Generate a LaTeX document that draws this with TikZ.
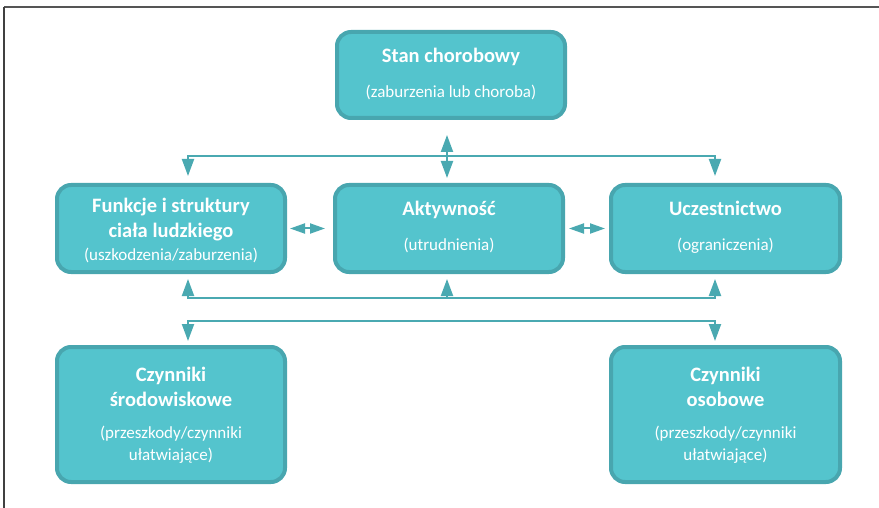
\documentclass[tikz,border=0pt]{standalone}
\usepackage{fontspec}
\setmainfont{Carlito}
\usetikzlibrary{arrows.meta}
\definecolor{boxfill}{HTML}{54C4CD}
\definecolor{boxline}{HTML}{48A6AF}
\definecolor{wirecol}{HTML}{4AA9B1}
\definecolor{framegray}{HTML}{555555}
\begin{document}
\begin{tikzpicture}[x=1pt,y=-1pt,
  box/.style={draw=boxline,fill=boxfill,line width=4pt,rounded corners=14pt,
              minimum width=228pt,inner sep=0pt},
  ttl/.style={anchor=base,text=white,inner sep=0pt,
              font=\fontsize{20.5}{24}\selectfont\bfseries},
  sub/.style={anchor=base,text=white,inner sep=0pt,
              font=\fontsize{17}{20}\selectfont},
  conn/.style={draw=wirecol,line width=2pt},
  vhead/.style={-{Triangle[width=12pt,length=17pt]}},
  dvhead/.style={{Triangle[width=12pt,length=17pt]}-{Triangle[width=12pt,length=17pt]}},
  dhhead/.style={{Triangle[width=10pt,length=15pt]}-{Triangle[width=10pt,length=15pt]}}
]
\useasboundingbox (0,0) rectangle (879,508);

% outer frame (top and left edges)
\draw[framegray,line width=2pt] (4,7.5) -- (879,7.5);
\draw[black!75,line width=1.3pt] (4,7) -- (4,508);

% boxes
\node[box,minimum height=86pt] (top)  at (451,75) {};
\node[box,minimum height=87pt] (funk) at (171,228.5) {};
\node[box,minimum height=87pt] (akt)  at (449,228.5) {};
\node[box,minimum height=87pt,minimum width=229pt] (ucz) at (725.5,228.5) {};
\node[box,minimum height=135pt] (env) at (171,414.5) {};
\node[box,minimum height=135pt,minimum width=229pt] (pers) at (725.5,414.5) {};

% labels
\node[ttl] (topT) at (451,62.7) {Stan chorobowy};
\node[sub] (topS) at (451,98) {(zaburzenia lub choroba)};
\node[ttl] (funkT1) at (171,213) {Funkcje i struktury};
\node[ttl] (funkT2) at (171,237) {ciała ludzkiego};
\node[sub] (funkS) at (171,260) {(uszkodzenia/zaburzenia)};
\node[ttl] (aktT) at (449,215) {Aktywność};
\node[sub] (aktS) at (449,251) {(utrudnienia)};
\node[ttl] (uczT) at (725.5,215) {Uczestnictwo};
\node[sub] (uczS) at (725.5,251) {(ograniczenia)};
\node[ttl] (envT1) at (171,381.5) {Czynniki};
\node[ttl] (envT2) at (171,406) {środowiskowe};
\node[sub] (envS1) at (171,438) {(przeszkody/czynniki};
\node[sub] (envS2) at (171,460) {ułatwiające)};
\node[ttl] (persT1) at (725.5,381.5) {Czynniki};
\node[ttl] (persT2) at (725.5,406) {osobowe};
\node[sub] (persS1) at (725.5,438) {(przeszkody/czynniki};
\node[sub] (persS2) at (725.5,460) {ułatwiające)};

% junction points of the connector buses
\coordinate (jL1) at (188,156);
\coordinate (jC1) at (447,156);
\coordinate (jR1) at (715,156);
\coordinate (jL2) at (188,298);
\coordinate (jC2) at (447,298);
\coordinate (jR2) at (715,298);
\coordinate (jL3) at (188,321);
\coordinate (jR3) at (715,321);

% upper bus
\draw[conn,dvhead,shorten <=7pt,shorten >=7pt]
  (jL1 |- funk.north) -- (jL1) -- (jR1) -- (jR1 |- ucz.north);
\draw[conn,dvhead,shorten <=15pt,shorten >=5pt]
  (jC1 |- top.south) -- (jC1 |- akt.north);

% side links of the middle row
\draw[conn,dhhead,shorten <=3pt,shorten >=8pt] (funk.east) -- (akt.west);
\draw[conn,dhhead,shorten <=4pt,shorten >=4pt] (akt.east) -- (ucz.west);

% lower bus back to the middle row
\draw[conn,dvhead,shorten <=5pt,shorten >=5pt]
  (jL2 |- funk.south) -- (jL2) -- (jR2) -- (jR2 |- ucz.south);
\draw[conn,vhead,shorten >=5pt] (jC2) -- (jC2 |- akt.south);

% bus to the contextual factors
\draw[conn,dvhead,shorten <=4pt,shorten >=4pt]
  (jL3 |- env.north) -- (jL3) -- (jR3) -- (jR3 |- pers.north);
\end{tikzpicture}
\end{document}
